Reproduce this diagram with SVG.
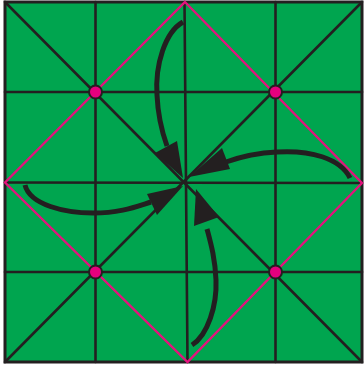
<svg xmlns="http://www.w3.org/2000/svg" width="364" height="367" viewBox="0 0 364 367">
<style>
.ln{stroke:#231f20;stroke-width:2.6;fill:none;stroke-linecap:round}
.mg{stroke:#e5127d;stroke-width:2.3;fill:none}
.dot{fill:#e5007e;stroke:#231f20;stroke-width:2}
.shaft{stroke:#231f20;stroke-width:5;fill:none;stroke-linecap:butt}
.head{fill:#231f20}
</style>
<rect width="364" height="367" fill="#ffffff"/>
<g id="board">
<rect x="5" y="2" width="357" height="360" fill="#00a54f" stroke="#231f20" stroke-width="3"/>
<g class="ln">
<line x1="95.5" y1="2" x2="95.5" y2="362"/>
<line x1="184.5" y1="2" x2="187.5" y2="362"/>
<line x1="275.5" y1="2" x2="275.5" y2="362"/>
<line x1="5" y1="92" x2="362" y2="92"/>
<line x1="5" y1="182.5" x2="362" y2="183"/>
<line x1="5" y1="272" x2="362" y2="272"/>
<line x1="5" y1="2" x2="362" y2="362"/>
<line x1="362" y1="2" x2="5" y2="362"/>
</g>
<polygon class="mg" points="185,2 362,183 187.5,362 5,182.5"/>
</g>
<g id="dot-tl"><circle class="dot" cx="95.5" cy="92" r="6.5"/></g>
<g id="dot-tr"><circle class="dot" cx="275.5" cy="92" r="6.5"/></g>
<g id="dot-bl"><circle class="dot" cx="95.5" cy="272" r="6.5"/></g>
<g id="dot-br"><circle class="dot" cx="275.5" cy="272" r="6.5"/></g>
<g id="connectors">
<g id="arrow-top">
<path class="shaft" d="M183,22 C165,32 155,65 157,95 C158,118 162,132 167,146"/>
<polygon class="head" points="183,178 155,153 177,141"/>
</g>
<g id="arrow-right">
<path class="shaft" d="M350,178 C340,158 310,150 277,152 C255,153 240,157 226,162"/>
<polygon class="head" points="189,177 222,148 230,169"/>
</g>
<g id="arrow-left">
<path class="shaft" d="M25,185 C30,205 65,213 93,213 C120,213 135,207 151,202"/>
<polygon class="head" points="183,186 147,194 157,215"/>
</g>
<g id="arrow-bottom">
<path class="shaft" d="M192,345 C208,335 217,305 216,280 C215,258 211,244 207,229"/>
<polygon class="head" points="196,189 194,226 219,217"/>
</g>
</g>
</svg>
